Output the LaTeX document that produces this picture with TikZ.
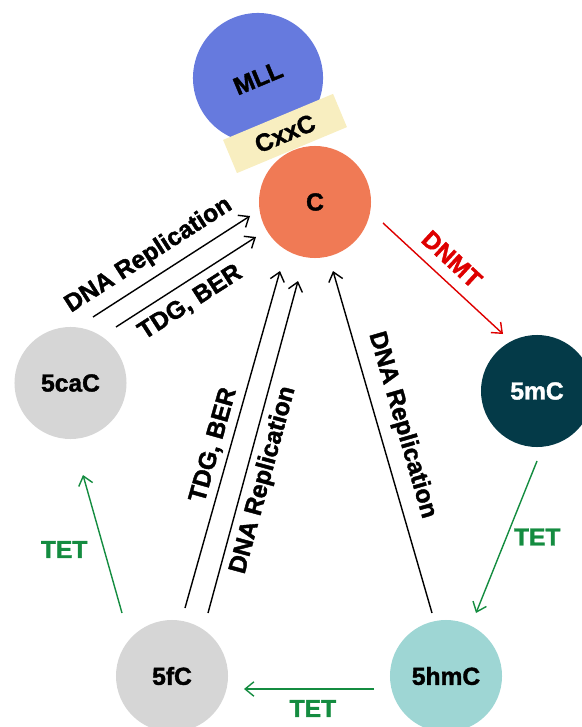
\documentclass[tikz,border=0pt]{standalone}
\usepackage{fontspec}
\setmainfont{Liberation Sans}[BoldFeatures={FakeBold=1.6}]
\usetikzlibrary{arrows.meta}

\definecolor{mllblue}{RGB}{102,122,222}
\definecolor{cxxcyellow}{RGB}{248,238,192}
\definecolor{corange}{RGB}{240,122,85}
\definecolor{basegray}{RGB}{214,214,214}
\definecolor{mcdark}{RGB}{4,58,72}
\definecolor{hmcteal}{RGB}{158,214,212}
\definecolor{dnmtred}{RGB}{222,0,0}
\definecolor{tetgreen}{RGB}{20,140,64}

\begin{document}
\begin{tikzpicture}[
  x=0.025cm, y=-0.025cm,
  >={Straight Barb[length=2.2mm, width=3.6mm]}, line width=1pt,
  font=\fontsize{17.5}{20}\selectfont\bfseries,
  base/.style = {circle, inner sep=0pt, minimum size=2.8cm},
  lbl/.style  = {sloped},
]
  \useasboundingbox (0,0) rectangle (582,727);

  % ---- Bases ----
  \node[base, fill=mllblue, minimum size=3.25cm, rotate=22.7] (mll) at (258,78) {MLL};
  \node[fill=cxxcyellow, inner sep=0pt, minimum width=2.98cm, minimum height=0.9cm,
        rotate=22.7] (cxxc) at (285,133.5) {CxxC};
  \node[base, fill=corange]              (c)   at (315,202)   {C};
  \node[base, fill=basegray]             (cac) at (70.5,383)  {5caC};
  \node[base, fill=mcdark, text=white]   (mc)  at (537,391)   {5mC};
  \node[base, fill=hmcteal]              (hmc) at (446,676)   {5hmC};
  \node[base, fill=basegray]             (fc)  at (172,676)   {5fC};

  % ---- Arrow ends ----
  \coordinate (cac-rep) at (93,317);   \coordinate (c-rep1) at (250,216);
  \coordinate (cac-tdg) at (116,327);  \coordinate (c-tdg1) at (256,237);
  \coordinate (fc-tdg)  at (185,608);  \coordinate (c-tdg2) at (280,271);
  \coordinate (fc-rep)  at (208,613);  \coordinate (c-rep2) at (298,281);
  \coordinate (hmc-rep) at (432,613);  \coordinate (c-rep3) at (333,271);
  \coordinate (c-dnmt)  at (383,223);  \coordinate (mc-in)  at (503,334);
  \coordinate (mc-out)  at (537,461);  \coordinate (hmc-in) at (476,613);
  \coordinate (hmc-out) at (374,689);  \coordinate (fc-in)  at (244,689);
  \coordinate (fc-out)  at (122,613);  \coordinate (cac-in) at (83,475);

  % ---- Back to C ----
  \draw[->] (cac-rep) -- node[lbl, above=3.5pt, pos=0.43]{DNA Replication} (c-rep1);
  \draw[->] (cac-tdg) -- node[lbl, below=2.7pt, pos=0.455]{TDG, BER}       (c-tdg1);
  \draw[->] (fc-tdg)  -- node[lbl, above=0.5pt, pos=0.47]{TDG, BER}        (c-tdg2);
  \draw[->] (fc-rep)  -- node[lbl, below=1.3pt, pos=0.415]{DNA Replication} (c-rep2);
  \draw[->] (hmc-rep) -- node[lbl, above=4.8pt, pos=0.53]{DNA Replication} (c-rep3);

  % ---- Methylation and oxidation ----
  \draw[->, dnmtred] (c-dnmt) -- node[lbl, above=4.5pt, pos=0.46]{DNMT} (mc-in);
  \draw[->, tetgreen] (mc-out)  -- node[right=1.5pt, pos=0.5]{TET}  (hmc-in);
  \draw[->, tetgreen] (hmc-out) -- node[below=4pt, pos=0.47]{TET}   (fc-in);
  \draw[->, tetgreen] (fc-out)  -- node[left=8pt, pos=0.46]{TET}    (cac-in);
\end{tikzpicture}
\end{document}
